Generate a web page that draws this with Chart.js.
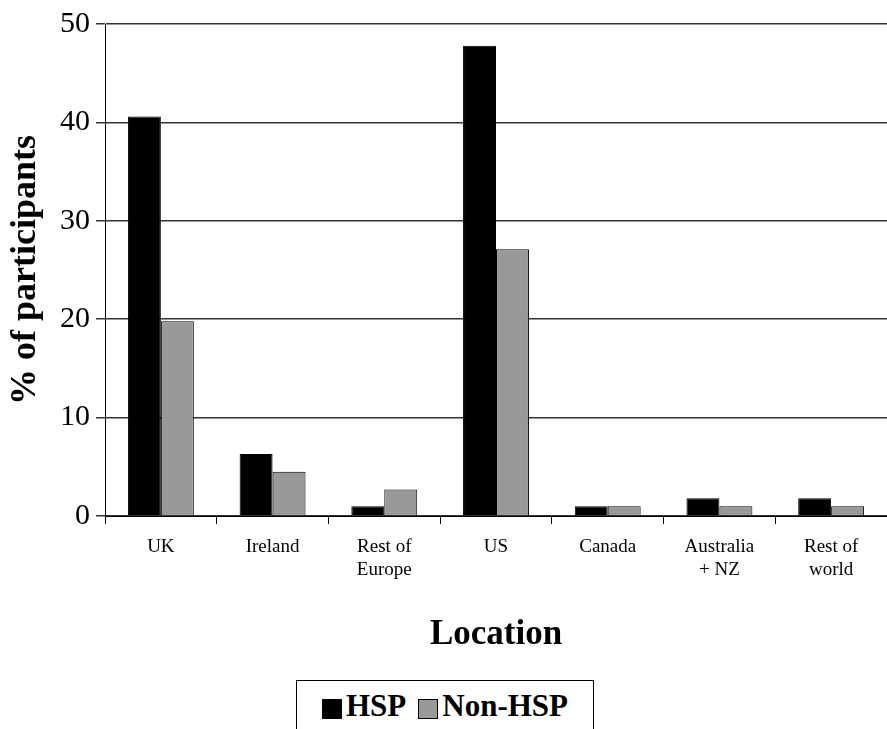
<!DOCTYPE html>
<html><head><meta charset="utf-8">
<script src="https://cdn.jsdelivr.net/npm/chart.js@4.4.0/dist/chart.umd.min.js"></script>
<style>
body{margin:0;background:#fff;font-family:"Liberation Serif","Times New Roman",serif;}
#wrap{position:absolute;left:0;top:0;width:887px;height:660px;}
#legend{position:absolute;left:296px;top:680px;width:298px;height:52px;border:1px solid #000;box-sizing:border-box;
 display:flex;align-items:center;justify-content:center;font-weight:bold;font-size:31px;gap:12px}
.sw{display:inline-block;width:18px;height:18px;border:1px solid #000;margin-right:4px;vertical-align:middle}
</style></head><body>
<div id="wrap"><canvas id="c"></canvas></div>
<div id="legend"><span><span class="sw" style="background:#000"></span>HSP</span><span><span class="sw" style="background:#999"></span>Non-HSP</span></div>
<script>
// dados
const categories = [['UK'], ['Ireland'], ['Rest of', 'Europe'], ['US'], ['Canada'], ['Australia', '+ NZ'], ['Rest of', 'world']];
const hsp = [40.6, 6.3, 1.0, 47.8, 1.0, 1.8, 1.8];
const nonHsp = [19.8, 4.5, 2.7, 27.1, 1.0, 1.0, 1.0];
const yTicks = [0, 10, 20, 30, 40, 50];

const serif = '"Liberation Serif","Times New Roman",serif';
new Chart(document.getElementById('c'), {
    type: 'bar',
    data: {
        labels: categories,
        datasets: [
            {label: 'HSP', data: hsp, backgroundColor: '#000', borderColor: '#000', borderWidth: 1},
            {label: 'Non-HSP', data: nonHsp, backgroundColor: '#999', borderColor: '#000', borderWidth: 1}
        ]
    },
    options: {
        responsive: true,
        maintainAspectRatio: false,
        animation: false,
        layout: {padding: {top: 19, right: 0}},
        plugins: {legend: {display: false}, tooltip: {enabled: false}},
        datasets: {bar: {categoryPercentage: 0.59, barPercentage: 1}},
        scales: {
            x: {
                afterFit: axis => { axis.height = 144; },
                grid: {display: true, drawOnChartArea: false, offset: true, color: '#000', tickLength: 8},
                border: {color: '#000'},
                ticks: {color: '#000', font: {family: serif, size: 19}, maxRotation: 0, padding: 12},
                title: {display: true, text: 'Location', color: '#000', font: {family: serif, size: 35, weight: 'bold'}, padding: {top: 6}}
            },
            y: {
                min: 0, max: 50,
                afterBuildTicks: axis => { axis.ticks = yTicks.map(v => ({value: v})); },
                afterFit: axis => { axis.width = 105; },
                grid: {color: '#333', lineWidth: 1.5, tickLength: 9},
                border: {color: '#000'},
                ticks: {color: '#000', font: {family: serif, size: 30}, padding: 6},
                title: {display: true, text: '% of participants', color: '#000', font: {family: serif, size: 36, weight: 'bold'}, padding: {bottom: 0}}
            }
        }
    }
});
</script>
</body></html>
